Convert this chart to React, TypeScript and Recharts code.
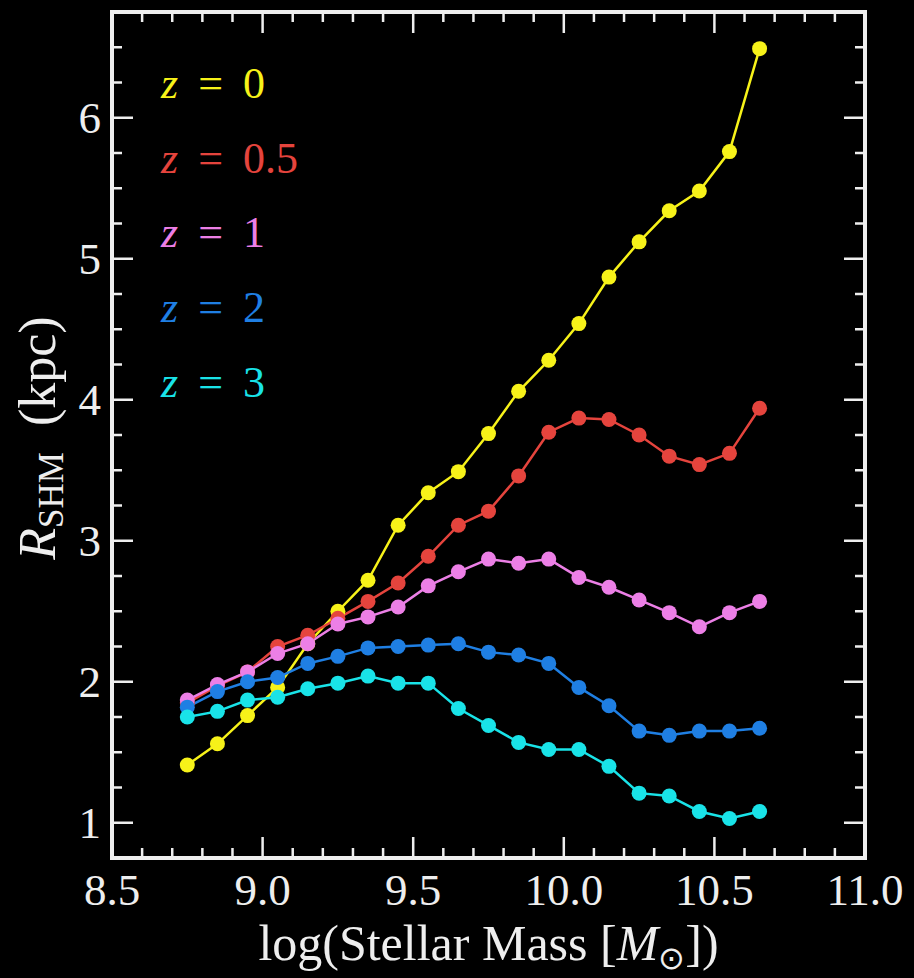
import { LineChart, Line, XAxis, YAxis, Legend, Label } from "recharts";

// log stellar mass bins
const masses = [8.75, 8.85, 8.95, 9.05, 9.15, 9.25, 9.35, 9.45, 9.55, 9.65, 9.75, 9.85, 9.95, 10.05, 10.15, 10.25, 10.35, 10.45, 10.55, 10.65];

// R_SHM (kpc) per redshift
const rZ0 = [1.41, 1.56, 1.76, 1.96, 2.27, 2.5, 2.72, 3.11, 3.34, 3.49, 3.76, 4.06, 4.28, 4.54, 4.87, 5.12, 5.34, 5.48, 5.76, 6.49];
const rZ05 = [1.85, 1.97, 2.07, 2.25, 2.33, 2.45, 2.57, 2.7, 2.89, 3.11, 3.21, 3.46, 3.77, 3.87, 3.86, 3.75, 3.6, 3.54, 3.62, 3.94];
const rZ1 = [1.87, 1.98, 2.07, 2.2, 2.27, 2.41, 2.46, 2.53, 2.68, 2.78, 2.87, 2.84, 2.87, 2.74, 2.67, 2.58, 2.49, 2.39, 2.49, 2.57];
const rZ2 = [1.82, 1.93, 2.0, 2.03, 2.13, 2.18, 2.24, 2.25, 2.26, 2.27, 2.21, 2.19, 2.13, 1.96, 1.83, 1.65, 1.62, 1.65, 1.65, 1.67];
const rZ3 = [1.75, 1.79, 1.87, 1.89, 1.95, 1.99, 2.04, 1.99, 1.99, 1.81, 1.69, 1.57, 1.52, 1.52, 1.4, 1.21, 1.19, 1.08, 1.03, 1.08];

const redshifts = ["0", "0.5", "1", "2", "3"];
const seriesKeys = ["z0", "z05", "z1", "z2", "z3"];
const seriesValues = [rZ0, rZ05, rZ1, rZ2, rZ3];
const colors = ["#f7f219", "#e5443d", "#ec7fe6", "#1f7fe3", "#19e3e8"];

// ticks (majors get labels)
const xTicks = [8.5, 8.6, 8.7, 8.8, 8.9, 9.0, 9.1, 9.2, 9.3, 9.4, 9.5, 9.6, 9.7, 9.8, 9.9, 10.0, 10.1, 10.2, 10.3, 10.4, 10.5, 10.6, 10.7, 10.8, 10.9, 11.0];
const yTicks = [1, 1.25, 1.5, 1.75, 2, 2.25, 2.5, 2.75, 3, 3.25, 3.5, 3.75, 4, 4.25, 4.5, 4.75, 5, 5.25, 5.5, 5.75, 6, 6.25, 6.5];
const xMajor = [8.5, 9.0, 9.5, 10.0, 10.5, 11.0];
const yMajor = [1, 2, 3, 4, 5, 6];

const data = masses.map((m, i) => {
  const row: Record<string, number> = { mass: m };
  seriesKeys.forEach((k, j) => (row[k] = seriesValues[j][i]));
  return row;
});

const serif = { fontFamily: "Liberation Serif" };
const INK = "#eeeeee";
const isMajor = (v: number, list: number[]) => list.some((t) => Math.abs(t - v) < 1e-6);

const BottomTick = (props: any) => {
  const { x, y, payload } = props;
  const major = isMajor(payload.value, xMajor);
  return (
    <g>
      <line x1={x} x2={x} y1={y} y2={y - (major ? 21 : 10)} stroke={INK} strokeWidth={2.5} />
      {major && (
        <text x={x} y={y + 47} textAnchor="middle" fill={INK} fontSize={45} style={serif}>
          {payload.value.toFixed(1)}
        </text>
      )}
    </g>
  );
};

const TopTick = (props: any) => {
  const { x, y, payload } = props;
  const major = isMajor(payload.value, xMajor);
  return <line x1={x} x2={x} y1={y} y2={y + (major ? 21 : 10)} stroke={INK} strokeWidth={2.5} />;
};

const LeftTick = (props: any) => {
  const { x, y, payload } = props;
  const major = isMajor(payload.value, yMajor);
  return (
    <g>
      <line x1={x} x2={x + (major ? 21 : 10)} y1={y} y2={y} stroke={INK} strokeWidth={2.5} />
      {major && (
        <text x={x - 11} y={y + 15} textAnchor="end" fill={INK} fontSize={45} style={serif}>
          {payload.value}
        </text>
      )}
    </g>
  );
};

const RightTick = (props: any) => {
  const { x, y, payload } = props;
  const major = isMajor(payload.value, yMajor);
  return <line x1={x} x2={x - (major ? 21 : 10)} y1={y} y2={y} stroke={INK} strokeWidth={2.5} />;
};

const XTitle = (props: any) => {
  const vb = props.viewBox;
  return (
    <text x={vb.x + vb.width / 2} y={vb.y + 102} textAnchor="middle" fill={INK} fontSize={50} style={serif}>
      <tspan>log(Stellar Mass [</tspan>
      <tspan fontStyle="italic">M</tspan>
      <tspan fontSize={32} dy={9}>⊙</tspan>
      <tspan dy={-9}>])</tspan>
    </text>
  );
};

const YTitle = (props: any) => {
  const vb = props.viewBox;
  const cx = vb.x - 56;
  const cy = vb.y + vb.height / 2 + 3;
  return (
    <text x={cx} y={cy} transform={`rotate(-90 ${cx} ${cy})`} textAnchor="middle" fill={INK} fontSize={52} style={serif}>
      <tspan fontStyle="italic">R</tspan>
      <tspan fontSize={35} dy={8}>SHM</tspan>
      <tspan dy={-8}>{"\u00a0\u00a0(kpc)"}</tspan>
    </text>
  );
};

const ZLegend = () => (
  <svg width={220} height={420}>
    {redshifts.map((z, i) => (
      <text key={z} x={2} y={98 + i * 74.7} fill={colors[i]} fontSize={44} style={serif}>
        <tspan fontStyle="italic">z</tspan>
        <tspan dx={20}>=</tspan>
        <tspan dx={20}>{z}</tspan>
      </text>
    ))}
  </svg>
);

const frame = { stroke: INK, strokeWidth: 4, strokeLinecap: "square" as const };

export default function App() {
  return (
    <div style={{ position: "absolute", left: 0, top: 0, width: 914, height: 978, background: "#000" }}>
      <LineChart width={914} height={978} data={data} margin={{ top: 11, right: 48, bottom: 119, left: 111 }}>
        <XAxis
          dataKey="mass"
          type="number"
          domain={[8.5, 11]}
          allowDataOverflow
          ticks={xTicks}
          interval={0}
          height={1}
          tickSize={0}
          tickMargin={0}
          tickLine={false}
          axisLine={frame}
          tick={BottomTick}
        >
          <Label content={XTitle} />
        </XAxis>
        <XAxis
          xAxisId="top"
          orientation="top"
          dataKey="mass"
          type="number"
          domain={[8.5, 11]}
          allowDataOverflow
          ticks={xTicks}
          interval={0}
          height={1}
          tickSize={0}
          tickMargin={0}
          tickLine={false}
          axisLine={frame}
          tick={TopTick}
        />
        <YAxis
          type="number"
          domain={[0.75, 6.75]}
          allowDataOverflow
          ticks={yTicks}
          interval={0}
          width={1}
          tickSize={0}
          tickMargin={0}
          tickLine={false}
          axisLine={frame}
          tick={LeftTick}
        >
          <Label content={YTitle} />
        </YAxis>
        <YAxis
          yAxisId="right"
          orientation="right"
          type="number"
          domain={[0.75, 6.75]}
          allowDataOverflow
          ticks={yTicks}
          interval={0}
          width={1}
          tickSize={0}
          tickMargin={0}
          tickLine={false}
          axisLine={frame}
          tick={RightTick}
        />
        <Legend
          layout="vertical"
          align="center"
          verticalAlign="middle"
          wrapperStyle={{ top: 0, left: 159, width: 220, height: 420 }}
          content={ZLegend}
        />
        {seriesKeys.map((k, i) => (
          <Line
            key={k}
            dataKey={k}
            name={redshifts[i]}
            stroke={colors[i]}
            strokeWidth={2.5}
            dot={{ r: 7.5, fill: colors[i], stroke: colors[i], strokeWidth: 0 }}
            activeDot={false}
            isAnimationActive={false}
          />
        ))}
      </LineChart>
    </div>
  );
}
